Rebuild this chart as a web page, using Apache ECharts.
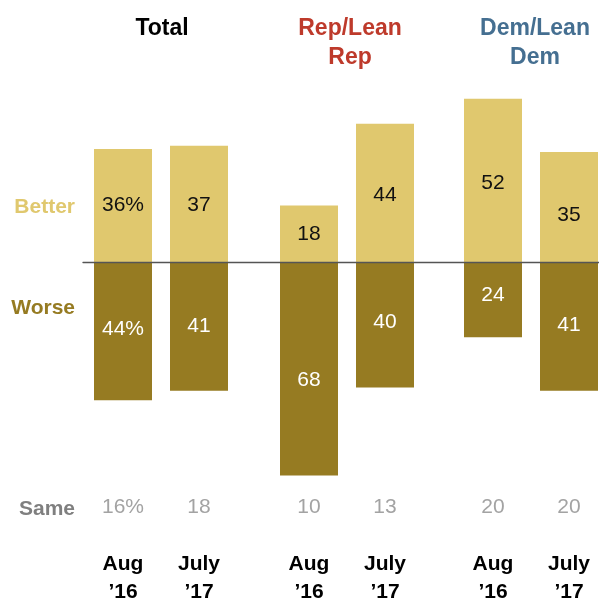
<!DOCTYPE html>
<html>
<head>
<meta charset="utf-8">
<script src="https://cdn.jsdelivr.net/npm/echarts@6/dist/echarts.min.js"></script>
<style>
  html, body { margin: 0; padding: 0; background: #fff; }
  #chart { width: 599px; height: 601px; }
</style>
</head>
<body>
<div id="chart"></div>
<script>
const groups = ['Total', 'Rep/Lean\nRep', 'Dem/Lean\nDem'];
const groupColors = ['#000000', '#BE3A2B', '#456F91'];
const periods = ['Aug\n’16', 'July\n’17'];
const better = [36, 37, 18, 44, 52, 35];
const worse = [44, 41, 68, 40, 24, 41];
const same = [16, 18, 10, 13, 20, 20];

// the original nudges a few in-bar labels off centre (px, downwards)
const betterNudge = [0, 1, 0, 2, 3, 8];
const worseNudge = [-2, 0, 11, -3, -4, -1];

const FONT = '"Liberation Sans", Arial, sans-serif';
const BETTER_COLOR = '#E0C86E';
const WORSE_COLOR = '#967B22';

const chart = echarts.init(document.getElementById('chart'));

const gridTop = 73.6;
const gridHeight = 408.2;
// first bar centre of each group; the second sits 76px to the right
const groupStarts = [123, 309, 493];
const groupCenters = [157, 345, 530];

const grids = [];
const xAxes = [];
const yAxes = [];
const series = [];
const titles = [];

groups.forEach((g, gi) => {
  grids.push({ left: groupStarts[gi], width: 76, top: gridTop, height: gridHeight, outerBoundsMode: 'none' });
  yAxes.push({ gridIndex: gi, type: 'value', min: -70, max: 60, show: false });

  // main axis (no line, no labels)
  xAxes.push({
    gridIndex: gi, type: 'category', data: periods, boundaryGap: false,
    axisLine: { show: false }, axisTick: { show: false }, axisLabel: { show: false }
  });
  const ax = xAxes.length - 1;

  const idx = [gi * 2, gi * 2 + 1];
  const b = idx.map(i => ({ value: better[i], label: { offset: [0, betterNudge[i]] } }));
  const w = idx.map(i => ({ value: -worse[i], label: { offset: [0, worseNudge[i]] } }));
  const s = idx.map(i => same[i]);

  series.push({
    type: 'bar', xAxisIndex: ax, yAxisIndex: gi, stack: 's' + gi, clip: false,
    data: b, barWidth: 58,
    itemStyle: { color: BETTER_COLOR },
    label: {
      show: true, position: 'inside', color: '#111', fontSize: 21, fontFamily: FONT,
      formatter: p => (gi === 0 && p.dataIndex === 0) ? p.value + '%' : p.value
    }
  });
  series.push({
    type: 'bar', xAxisIndex: ax, yAxisIndex: gi, stack: 's' + gi, clip: false,
    data: w, barWidth: 58,
    itemStyle: { color: WORSE_COLOR },
    label: {
      show: true, position: 'inside', color: '#fff', fontSize: 21, fontFamily: FONT,
      formatter: p => (gi === 0 && p.dataIndex === 0) ? (-p.value) + '%' : -p.value
    }
  });

  // "Same" row
  xAxes.push({
    gridIndex: gi, type: 'category', position: 'bottom', boundaryGap: false,
    data: s.map((v, k) => (gi === 0 && k === 0) ? v + '%' : String(v)),
    axisLine: { show: false }, axisTick: { show: false },
    axisLabel: { margin: 13, fontSize: 21, lineHeight: 24, color: '#A3A3A3', fontFamily: FONT, interval: 0 }
  });
  // period labels
  xAxes.push({
    gridIndex: gi, type: 'category', position: 'bottom', boundaryGap: false,
    data: periods,
    axisLine: { show: false }, axisTick: { show: false },
    axisLabel: { margin: 68, fontSize: 21, lineHeight: 28, fontWeight: 'bold', color: '#000', fontFamily: FONT, interval: 0 }
  });

  titles.push({
    text: g, left: groupCenters[gi], top: 9.5, textAlign: 'center',
    textStyle: { fontSize: 23, lineHeight: 29, fontWeight: 'bold', color: groupColors[gi], fontFamily: FONT }
  });
});

// zero line across all groups
grids.push({ left: 83, right: 0, top: gridTop, height: gridHeight, outerBoundsMode: 'none' });
yAxes.push({ gridIndex: 3, type: 'value', min: -70, max: 60, show: false });
xAxes.push({
  gridIndex: 3, type: 'category', data: [''], z: 10,
  axisLine: { show: true, onZero: true, lineStyle: { color: '#555', width: 1.3 } },
  axisTick: { show: false }, axisLabel: { show: false }
});

const sideLabels = [
  { text: 'Better', y: 207, color: '#E0C86E' },
  { text: 'Worse', y: 308, color: '#967B22' },
  { text: 'Same', y: 509, color: '#7F7F7F' }
];

chart.setOption({
  animation: false,
  title: titles,
  grid: grids,
  xAxis: xAxes,
  yAxis: yAxes,
  series: series,
  graphic: sideLabels.map(l => ({
    type: 'text', x: 75, y: l.y,
    style: {
      text: l.text, fill: l.color, font: 'bold 21px ' + FONT,
      textAlign: 'right', textVerticalAlign: 'middle'
    }
  }))
});
</script>
</body>
</html>
